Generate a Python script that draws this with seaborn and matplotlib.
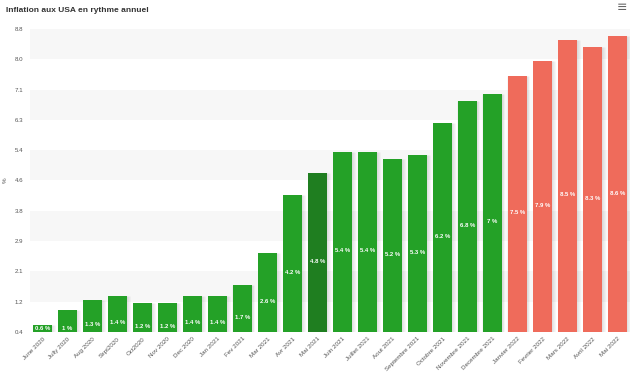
import matplotlib
matplotlib.use("Agg")
import matplotlib.pyplot as plt
import seaborn as sns
import pandas as pd

months = ["June 2020", "Jully 2020", "Aug 2020", "Sept2020", "Oct2020", "Nov 2020",
          "Dec 2020", "Jan 2021", "Fev 2021", "Mar 2021", "Avr 2021", "Mai 2021",
          "Juin 2021", "Juillet 2021", "Aout 2021", "Septembre 2021", "Octobre 2021",
          "Novembre 2021", "Decembre 2021", "Janvier 2022", "Fevrier 2022",
          "Mars 2022", "Avril 2022", "Mai 2022"]
inflation = [0.6, 1, 1.3, 1.4, 1.2, 1.2, 1.4, 1.4, 1.7, 2.6, 4.2, 4.8,
             5.4, 5.4, 5.2, 5.3, 6.2, 6.8, 7, 7.5, 7.9, 8.5, 8.3, 8.6]
groups = ["g"] * 11 + ["d"] + ["g"] * 7 + ["r"] * 5
palette = {"g": "#24a127", "d": "#1f7e20", "r": "#ef6b5b"}
ytick_vals = [0.4, 1.24, 2.08, 2.92, 3.76, 4.6, 5.44, 6.28, 7.12, 7.96, 8.8]
ytick_labels = ["0.4", "1.2", "2.1", "2.9", "3.8", "4.6", "5.4", "6.3", "7.1", "8.0", "8.8"]

df = pd.DataFrame({"month": months, "value": inflation, "group": groups})

sns.set_theme(style="white")
plt.rcParams['font.family'] = ['Liberation Sans', 'DejaVu Sans']

fig = plt.figure(figsize=(6.36, 3.75), dpi=100)
ax = fig.add_axes([30 / 636, 1 - 332 / 375, 600 / 636, 303 / 375])

ymin, ymax = ytick_vals[0], ytick_vals[-1]
for i in range(len(ytick_vals) - 1):
    if i % 2 == 1:
        ax.axhspan(ytick_vals[i], ytick_vals[i + 1], color="#f7f7f7", zorder=0, lw=0)

# shadows
xs = list(range(len(months)))
ax.bar([x + 0.04 for x in xs], inflation, width=0.88, color="#000000", alpha=0.06,
       zorder=1, bottom=0)
ax.bar([x + 0.02 for x in xs], inflation, width=0.83, color="#000000", alpha=0.06,
       zorder=1, bottom=0)

sns.barplot(data=df, x="month", y="value", hue="group", palette=palette,
            width=0.78, dodge=False, legend=False, ax=ax, zorder=2,
            saturation=1, edgecolor="none")

for i, v in enumerate(inflation):
    ly = max((v + ymin) / 2 - 0.25, 0.5)
    txt = f"{v:g} %"
    ax.text(i, ly, txt, ha="center", va="center", color="white", fontsize=4.3,
            fontweight="bold", zorder=3)

ax.set_ylim(ymin, ymax)
ax.set_xlim(-0.5, len(months) - 0.5)
ax.set_yticks(ytick_vals)
ax.set_yticklabels(ytick_labels)
ax.tick_params(axis="y", labelsize=4.4, colors="#555555", length=0, pad=5)
ax.tick_params(axis="x", labelsize=4.5, colors="#555555", length=0, pad=3)
plt.setp(ax.get_xticklabels(), rotation=45, ha="right", rotation_mode="anchor")
ax.set_xlabel("")
ax.set_ylabel("%", fontsize=4.5, color="#555555", rotation=90)
ax.yaxis.set_label_coords(-22 / 600, 0.5)
for s in ax.spines.values():
    s.set_visible(False)

fig.text(6 / 636, 1 - 11 / 375, "Inflation aux USA en rythme annuel", fontsize=6,
         fontweight="bold", color="#333333", va="center", ha="left")
fig.text(622 / 636, 1 - 8 / 375, "≡", fontsize=9, color="#666666", va="center",
         ha="center", family="DejaVu Sans")

fig.savefig("out.png", dpi=100)
